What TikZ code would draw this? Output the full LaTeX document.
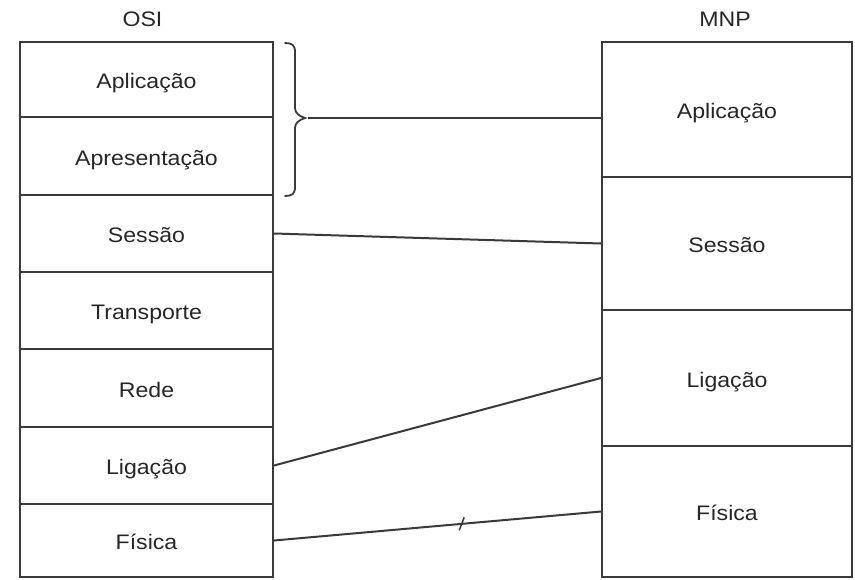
\documentclass[tikz,border=0pt]{standalone}
\usepackage{fontspec}
\setmainfont{Liberation Sans}[FakeStretch=1.1]
\usetikzlibrary{calc}
\definecolor{ink}{HTML}{3A3A3A}
\definecolor{txt}{HTML}{262626}
\tikzset{
  layer/.style={draw=ink, line width=2pt, rectangle, inner sep=0pt, text=txt,
    font=\fontsize{21pt}{25pt}\selectfont, text height=18pt, text depth=0pt},
  lbox/.style={layer, minimum width=253pt},
  rbox/.style={layer, minimum width=250pt},
  head/.style={text=txt, font=\fontsize{21pt}{25pt}\selectfont, inner sep=0pt,
    text height=18pt, text depth=0pt},
  link/.style={draw=ink, line width=2pt},
}
\begin{document}
\begin{tikzpicture}[x=1pt, y=-1pt]
\useasboundingbox (0,0) rectangle (855,579);
% headings
\node[head] (hosi) at (142.5,17) {OSI};
\node[head] (hmnp) at (725,17) {MNP};
% OSI stack
\node[lbox, minimum height=75pt] (L1) at (146.5,79.5) {Aplicação};
\node[lbox, minimum height=78pt] (L2) at (146.5,156) {Apresentação};
\node[lbox, minimum height=77pt] (L3) at (146.5,233.5) {Sessão};
\node[lbox, minimum height=77pt] (L4) at (146.5,310.5) {Transporte};
\node[lbox, minimum height=78pt] (L5) at (146.5,388) {Rede};
\node[lbox, minimum height=77pt] (L6) at (146.5,465.5) {Ligação};
\node[lbox, minimum height=73pt] (L7) at (146.5,540.5) {Física};
% MNP stack
\node[rbox, minimum height=135pt] (R1) at (727,109.5) {Aplicação};
\node[rbox, minimum height=133pt] (R2) at (727,243.5) {Sessão};
\node[rbox, minimum height=136pt] (R3) at (727,378) {Ligação};
\node[rbox, minimum height=131pt] (R4) at (727,511.5) {Física};
% brace
\coordinate (btip) at (308,118);
\draw[link, line width=1.8pt, line cap=round]
  (285,43) .. controls (292,43) and (295,45) .. (295,52)
  -- (295,108) .. controls (295,113) and (299,116) .. (305,118)
  .. controls (299,120) and (295,123) .. (295,128)
  -- (295,187) .. controls (295,194) and (292,196) .. (285,196);
% connectors
\draw[link] (btip) -- (btip -| R1.west);
\draw[link] (L3.east) -- (R2.west);
\draw[link] (L6.east) -- (R3.west);
\draw[link] (L7.east) -- (R4.west);
\coordinate (tick) at ($(L7.east)!0.574!(R4.west)$);
\draw[draw=ink, line width=1.5pt] (tick) ++(-2.5,6.5) -- ++(5,-13);
\end{tikzpicture}
\end{document}
